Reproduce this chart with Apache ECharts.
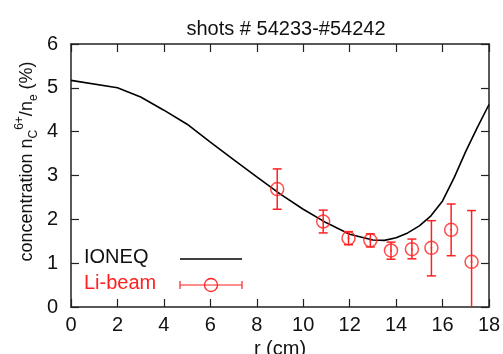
<!DOCTYPE html>
<html><head><meta charset="utf-8">
<script src="https://cdn.jsdelivr.net/npm/echarts@6/dist/echarts.min.js"></script>
<style>html,body{margin:0;padding:0;background:#fff}#c{width:503px;height:354px}</style>
</head><body><div id="c"></div>
<script>
// IONEQ model curve
const ioneqR = [0, 2, 3, 4, 5, 6, 7, 8, 9, 10, 11, 12, 13, 13.5, 14, 14.5, 15, 15.5, 16, 16.5, 17, 17.5, 18];
const ioneqC = [5.17, 5.00, 4.79, 4.49, 4.17, 3.76, 3.36, 2.97, 2.58, 2.23, 1.92, 1.66, 1.53, 1.52, 1.58, 1.69, 1.85, 2.08, 2.42, 2.95, 3.55, 4.10, 4.62];
// Li-beam measurements
const liR  = [8.88, 10.86, 11.95, 12.89, 13.78, 14.68, 15.52, 16.37, 17.25];
const liC  = [2.69, 1.95, 1.57, 1.52, 1.29, 1.32, 1.35, 1.76, 1.03];
const liLo = [2.23, 1.69, 1.42, 1.37, 1.09, 1.10, 0.71, 1.17, -0.30];
const liHi = [3.15, 2.21, 1.72, 1.67, 1.48, 1.55, 1.97, 2.35, 2.20];
const xTicks = [0, 2, 4, 6, 8, 10, 12, 14, 16, 18];
const yTicks = [0, 1, 2, 3, 4, 5, 6];

const FONT = 'Liberation Sans';
const RED = '#ff2020';
const AX = '#222';
const FS = 20;

const chart = echarts.init(document.getElementById('c'), null, {renderer: 'canvas'});

const axisCommon = {
  axisLine: {show: true, onZero: false, lineStyle: {color: AX, width: 1.5}},
  axisTick: {show: true, inside: true, length: 8, lineStyle: {color: AX, width: 1.2}},
  splitLine: {show: false}
};

const option = {
  animation: false,
  backgroundColor: '#fff',
  textStyle: {fontFamily: FONT},
  title: {
    text: 'shots # 54233-#54242',
    left: 281, top: 14, textAlign: 'center',
    textStyle: {fontFamily: FONT, fontSize: FS, fontWeight: 'normal', color: '#111'}
  },
  grid: {left: 71, right: 14, top: 44, bottom: 47, containLabel: false, outerBoundsMode: 'none'},
  xAxis: [
    Object.assign({
      type: 'value', min: xTicks[0], max: xTicks[xTicks.length - 1], interval: 2, position: 'bottom',
      name: 'r (cm)', nameLocation: 'middle', nameGap: 30,
      nameTextStyle: {fontFamily: FONT, fontSize: FS, color: '#111', verticalAlign: 'top'},
      axisLabel: {fontFamily: FONT, fontSize: FS, color: '#111', margin: 8}
    }, axisCommon),
    Object.assign({
      type: 'value', min: xTicks[0], max: xTicks[xTicks.length - 1], interval: 2, position: 'top',
      axisLabel: {show: false}
    }, axisCommon)
  ],
  yAxis: [
    Object.assign({
      type: 'value', min: yTicks[0], max: yTicks[yTicks.length - 1], interval: 1, position: 'left',
      name: '{n|concentration n}{sub|C}{sup|6+}{n|/n}{sub|e}{n| (%)}',
      nameLocation: 'middle', nameGap: 31, nameRotate: 90, nameMoveOverlap: false,
      nameTextStyle: {
        fontFamily: FONT, fontSize: 18, color: '#111', padding: [0, 0, 0, 28],
        rich: {
          n: {fontFamily: FONT, fontSize: 18, color: '#111', lineHeight: 26, verticalAlign: 'middle'},
          sub: {fontFamily: FONT, fontSize: 12, color: '#111', lineHeight: 24, verticalAlign: 'bottom'},
          sup: {fontFamily: FONT, fontSize: 12, color: '#111', lineHeight: 24, verticalAlign: 'top'}
        }
      },
      axisLabel: {fontFamily: FONT, fontSize: FS, color: '#111', margin: 13}
    }, axisCommon),
    Object.assign({
      type: 'value', min: yTicks[0], max: yTicks[yTicks.length - 1], interval: 1, position: 'right',
      axisLabel: {show: false}
    }, axisCommon)
  ],
  series: [
    {
      name: 'IONEQ', type: 'line', xAxisIndex: 0, yAxisIndex: 0,
      data: ioneqR.map((r, i) => [r, ioneqC[i]]),
      showSymbol: false, smooth: false,
      lineStyle: {color: '#000', width: 1.6}, z: 3
    },
    {
      name: 'Li-beam-err', type: 'custom', xAxisIndex: 0, yAxisIndex: 0, clip: true,
      data: liR.map((r, i) => [r, liLo[i], liHi[i]]),
      renderItem: function (params, api) {
        const x = api.value(0);
        const p1 = api.coord([x, api.value(1)]);
        const p2 = api.coord([x, api.value(2)]);
        const hw = 4.5;
        const st = {stroke: RED, lineWidth: 1.5};
        return {
          type: 'group',
          children: [
            {type: 'line', shape: {x1: p1[0], y1: p1[1], x2: p2[0], y2: p2[1]}, style: st},
            {type: 'line', shape: {x1: p1[0] - hw, y1: p1[1], x2: p1[0] + hw, y2: p1[1]}, style: st},
            {type: 'line', shape: {x1: p2[0] - hw, y1: p2[1], x2: p2[0] + hw, y2: p2[1]}, style: st}
          ]
        };
      },
      z: 4
    },
    {
      name: 'Li-beam', type: 'scatter', xAxisIndex: 0, yAxisIndex: 0,
      data: liR.map((r, i) => [r, liC[i]]),
      symbol: 'circle', symbolSize: 13,
      itemStyle: {color: 'rgba(0,0,0,0)', borderColor: RED, borderWidth: 1.5},
      z: 5
    },
    {
      name: 'Li-beam-dot', type: 'scatter', xAxisIndex: 0, yAxisIndex: 0,
      data: liR.map((r, i) => [r, liC[i]]),
      symbol: 'circle', symbolSize: 2,
      itemStyle: {color: RED},
      z: 5
    }
  ],
  graphic: [
    {type: 'text', left: 84, top: 247, style: {text: 'IONEQ', fontFamily: FONT, fontSize: FS, fill: '#111'}},
    {type: 'line', shape: {x1: 180, y1: 259, x2: 242, y2: 259}, style: {stroke: '#000', lineWidth: 1.6}},
    {type: 'text', left: 84, top: 273, style: {text: 'Li-beam', fontFamily: FONT, fontSize: FS, fill: RED}},
    {type: 'line', shape: {x1: 180, y1: 285, x2: 242, y2: 285}, style: {stroke: RED, lineWidth: 1.2}},
    {type: 'line', shape: {x1: 180, y1: 281, x2: 180, y2: 289}, style: {stroke: RED, lineWidth: 1.2}},
    {type: 'line', shape: {x1: 242, y1: 281, x2: 242, y2: 289}, style: {stroke: RED, lineWidth: 1.2}},
    {type: 'circle', shape: {cx: 211, cy: 285, r: 6.5}, style: {stroke: RED, fill: 'none', lineWidth: 1.3}}
  ]
};
chart.setOption(option);
</script></body></html>
